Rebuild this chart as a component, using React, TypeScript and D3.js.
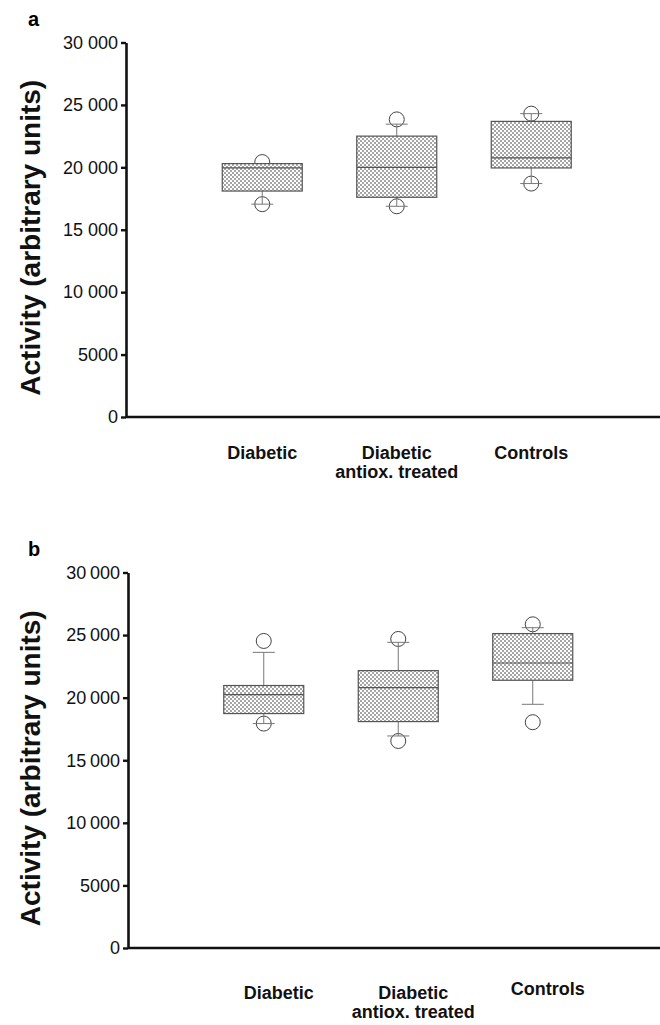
import React, { useEffect, useRef } from "react";
import * as d3 from "d3";

// groups (second label wraps onto two lines)
const categories = ["Diabetic", "Diabetic\nantiox. treated", "Controls"];
const yTicks = [0, 5000, 10000, 15000, 20000, 25000, 30000];

// panel a
const q1A = [18100, 17600, 19950];
const medA = [19950, 20000, 20750];
const q3A = [20300, 22500, 23680];
const lowA = [17050, 16880, 18700];
const highA = [20300, 23460, 24300];
const outLowA = [17050, 16880, 18700];
const outHighA = [20420, 23840, 24300];

// panel b
const q1B = [18730, 18090, 21390];
const medB = [20250, 20810, 22770];
const q3B = [20970, 22160, 25120];
const lowB = [17930, 16940, 19470];
const highB = [23620, 24420, 25590];
const outLowB = [17930, 16540, 18040];
const outHighB = [24530, 24690, 25860];

type Panel = {
  letter: string;
  top: number;
  bottom: number;
  axisX: number;
  bandStart: number;
  labelShift: number;
  labelY: number;
  sep: string;
  q1: number[];
  med: number[];
  q3: number[];
  low: number[];
  high: number[];
  outLow: number[];
  outHigh: number[];
};

const panels: Panel[] = [
  { letter: "a", top: 42.5, bottom: 417, axisX: 126, bandStart: 195, labelShift: 0, labelY: 459, sep: " ",
    q1: q1A, med: medA, q3: q3A, low: lowA, high: highA, outLow: outLowA, outHigh: outHighA },
  { letter: "b", top: 572.5, bottom: 948, axisX: 128, bandStart: 196.5, labelShift: 15, labelY: 999, sep: "\u2009",
    q1: q1B, med: medB, q3: q3B, low: lowB, high: highB, outLow: outLowB, outHigh: outHighB },
];

export default function App() {
  const ref = useRef<SVGSVGElement | null>(null);

  useEffect(() => {
    const svg = d3.select(ref.current);
    svg.selectAll("*").remove();

    const defs = svg.append("defs");
    const pat = defs.append("pattern")
      .attr("id", "dots")
      .attr("patternUnits", "userSpaceOnUse")
      .attr("width", 4)
      .attr("height", 4);
    pat.append("rect").attr("width", 4).attr("height", 4).attr("fill", "#fff");
    pat.append("circle").attr("cx", 1).attr("cy", 1).attr("r", 0.8).attr("fill", "#333");
    pat.append("circle").attr("cx", 3).attr("cy", 3).attr("r", 0.8).attr("fill", "#333");

    const boxW = 80;
    const capW = 22;

    panels.forEach(p => {
      const g = svg.append("g");
      const y = d3.scaleLinear().domain([0, 30000]).range([p.bottom, p.top]);
      const x = d3.scaleBand().domain(categories).range([p.bandStart, p.bandStart + 134.5 * 3]);
      const cx = (i: number) => (x(categories[i]) as number) + x.bandwidth() / 2;
      const idx = d3.range(categories.length);

      // panel letter
      g.append("text")
        .attr("x", 28).attr("y", p.top - 17)
        .attr("font-family", "Liberation Sans, Arial, sans-serif")
        .attr("font-weight", "bold").attr("font-size", 20)
        .text(p.letter);

      // y title
      g.append("text")
        .attr("transform", `translate(40,${(p.top + p.bottom) / 2 + 8}) rotate(-90)`)
        .attr("text-anchor", "middle")
        .attr("font-family", "Liberation Sans, Arial, sans-serif")
        .attr("font-weight", "bold").attr("font-size", 28)
        .attr("fill", "#111")
        .text("Activity (arbitrary units)");

      // outliers first so the box covers them
      g.selectAll("circle.hi").data(idx).enter().append("circle")
        .attr("cx", cx).attr("cy", i => y(p.outHigh[i])).attr("r", 7.5)
        .attr("fill", "none").attr("stroke", "#444").attr("stroke-width", 1);
      g.selectAll("circle.lo").data(idx).enter().append("circle")
        .attr("cx", cx).attr("cy", i => y(p.outLow[i])).attr("r", 7.5)
        .attr("fill", "none").attr("stroke", "#444").attr("stroke-width", 1);

      // whiskers
      g.selectAll("line.wu").data(idx).enter().append("line")
        .attr("x1", cx).attr("x2", cx)
        .attr("y1", i => y(p.q3[i])).attr("y2", i => y(p.high[i]))
        .attr("stroke", "#777").attr("stroke-width", 1);
      g.selectAll("line.wl").data(idx).enter().append("line")
        .attr("x1", cx).attr("x2", cx)
        .attr("y1", i => y(p.q1[i])).attr("y2", i => y(p.low[i]))
        .attr("stroke", "#777").attr("stroke-width", 1);
      g.selectAll("line.cu").data(idx).enter().append("line")
        .attr("x1", i => cx(i) - capW / 2).attr("x2", i => cx(i) + capW / 2)
        .attr("y1", i => y(p.high[i])).attr("y2", i => y(p.high[i]))
        .attr("stroke", "#777").attr("stroke-width", 1);
      g.selectAll("line.cl").data(idx).enter().append("line")
        .attr("x1", i => cx(i) - capW / 2).attr("x2", i => cx(i) + capW / 2)
        .attr("y1", i => y(p.low[i])).attr("y2", i => y(p.low[i]))
        .attr("stroke", "#777").attr("stroke-width", 1);

      // boxes
      g.selectAll("rect.box").data(idx).enter().append("rect")
        .attr("x", i => cx(i) - boxW / 2).attr("width", boxW)
        .attr("y", i => y(p.q3[i])).attr("height", i => y(p.q1[i]) - y(p.q3[i]))
        .attr("fill", "url(#dots)").attr("stroke", "#555").attr("stroke-width", 1.2);
      g.selectAll("line.med").data(idx).enter().append("line")
        .attr("x1", i => cx(i) - boxW / 2).attr("x2", i => cx(i) + boxW / 2)
        .attr("y1", i => y(p.med[i])).attr("y2", i => y(p.med[i]))
        .attr("stroke", "#555").attr("stroke-width", 1.2);

      // y axis
      const fmt = (d: number) => d >= 10000 ? d3.format(",")(d).replace(",", p.sep) : String(d);
      const ax = g.append("g")
        .attr("transform", `translate(${p.axisX},0)`)
        .call(d3.axisLeft(y).tickValues(yTicks).tickSize(5).tickSizeOuter(0).tickPadding(3)
          .tickFormat(d => fmt(d as number)));
      ax.select(".domain").attr("stroke", "#111").attr("stroke-width", 2.6);
      ax.selectAll(".tick line").attr("stroke", "#111").attr("stroke-width", 2.4);
      ax.selectAll(".tick text")
        .attr("font-family", "Liberation Sans, Arial, sans-serif")
        .attr("font-size", 18).attr("fill", "#111");

      // baseline
      g.append("line")
        .attr("x1", p.axisX).attr("x2", 660)
        .attr("y1", y(0)).attr("y2", y(0))
        .attr("stroke", "#111").attr("stroke-width", 2.6);

      // category labels
      categories.forEach((c, i) => {
        const t = g.append("text")
          .attr("text-anchor", "middle")
          .attr("font-family", "Liberation Sans, Arial, sans-serif")
          .attr("font-weight", "bold").attr("font-size", 18)
          .attr("fill", "#111");
        c.split("\n").forEach((line, k) => {
          t.append("tspan")
            .attr("x", cx(i) + p.labelShift)
            .attr("y", p.labelY + k * 18.5 - (i === 2 && p.letter === "b" ? 4 : 0))
            .text(line);
        });
      });
    });
  }, []);

  return (
    <svg
      ref={ref}
      width={660}
      height={1025}
      style={{ position: "absolute", left: 0, top: 0, background: "#fff" }}
    />
  );
}
